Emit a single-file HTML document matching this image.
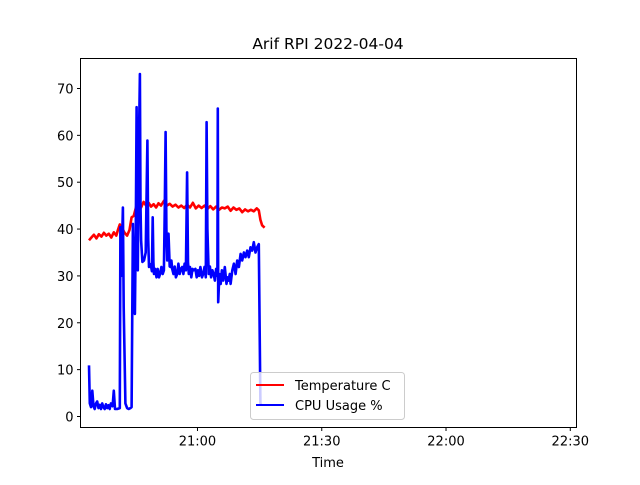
<!DOCTYPE html>
<html><head><meta charset="utf-8"><style>
body{margin:0;background:#fff}
svg text{font-family:"DejaVu Sans","Liberation Sans",sans-serif;fill:#000}
</style></head><body>
<svg id="chart" width="640" height="480" xmlns="http://www.w3.org/2000/svg">
<rect width="640" height="480" fill="#fff"/>
<text x="328" y="49" font-size="15.5" text-anchor="middle">Arif RPI 2022-04-04</text>
<g id="marks"></g>
<rect x="80.5" y="58.5" width="496" height="369" fill="none" stroke="#000" stroke-width="1"/>
<g id="axes"></g>
<text x="328" y="467" font-size="13" text-anchor="middle">Time</text>
<g>
<rect x="250.5" y="372.5" width="154" height="47" rx="3" fill="#fff" fill-opacity="0.8" stroke="#ccc"/>
<line x1="256" y1="385" x2="284" y2="385" stroke="red" stroke-width="2"/>
<text x="295" y="390" font-size="13">Temperature C</text>
<line x1="256" y1="405" x2="284" y2="405" stroke="blue" stroke-width="2"/>
<text x="295" y="410" font-size="13">CPU Usage %</text>
</g>
</svg>
<script>
// times in minutes after 20:00
const cpuTimes=[33.8,34.0,34.3,34.6,34.9,35.2,35.5,35.8,36.1,36.4,36.7,37.0,37.3,37.6,37.9,38.2,38.5,38.8,39.1,39.5,39.8,40.1,40.6,41.25,41.4,41.6,42.0,42.2,42.6,43.0,43.4,43.8,44.1,44.4,44.6,44.9,45.1,45.3,45.45,45.6,45.8,46.1,46.25,46.4,46.7,47.1,47.5,47.9,48.1,48.3,48.7,49.0,49.2,49.35,49.5,49.8,50.1,50.4,50.7,51.0,51.3,51.6,51.9,52.1,52.3,52.5,52.7,53.0,53.3,53.5,53.7,53.9,54.2,54.5,54.8,55.1,55.4,55.7,56.0,56.3,56.6,56.9,57.2,57.5,57.7,57.9,58.2,58.5,58.8,59.1,59.5,59.8,60.1,60.4,60.7,61.1,61.4,61.7,62.0,62.2,62.4,62.7,63.0,63.3,63.6,63.9,64.2,64.5,64.8,64.9,65.0,65.3,65.6,65.9,66.2,66.6,67.0,67.2,67.5,67.8,68.0,68.4,68.8,69.2,69.6,70.0,70.4,70.8,71.2,71.6,72.0,72.4,72.8,73.2,73.6,74.0,74.4,74.8,75.2,75.4,75.5];
const cpuValues=[10.9,2.8,2.0,5.5,2.2,1.6,2.8,3.2,1.8,2.5,1.6,2.8,2.0,1.6,2.6,1.8,2.4,1.6,2.8,2.2,5.5,1.6,1.6,1.8,40.4,30,44.6,23.3,2.8,1.8,1.6,1.8,2.0,41.1,30,21.9,40,66,50,31.2,55,73.1,45,37.6,33,33.3,35,58.9,38,31.9,32.5,31,42.5,33,30.4,31.5,29.7,31.5,29.7,30.5,31.9,30.4,31.2,45,60.7,40,33.3,39,32,31.9,33.3,31.5,30.4,32,29.7,30.4,32.6,30.4,31.5,31.9,30.4,32.6,31.2,52.1,33,30.4,31.9,29.7,31.5,31.2,31.5,29.7,31.2,30,31.9,29.7,30.5,31.9,29.7,62.8,40,30.4,32,29.7,31.2,30.4,29.0,31.5,30.0,65.7,24.4,30.4,28.3,31.2,29.0,31.9,28.3,29.7,29.0,30.4,28.3,31.2,32.6,30.4,33.3,31.9,34.7,33.3,35.0,34.0,35.4,34.0,36.1,35.4,37.2,35.0,36.1,36.8,2.8,2.5];
const tempTimes=[33.8,34.4,35.0,35.6,36.2,36.8,37.4,38.0,38.6,39.2,39.8,40.4,40.8,41.25,41.8,42.4,43.0,43.6,44.1,44.6,45.2,45.8,46.4,47.0,47.6,48.2,48.8,49.4,50.0,50.6,51.2,51.9,52.6,53.3,54.0,54.7,55.4,56.1,56.8,57.5,58.2,58.9,59.6,60.3,61.0,61.7,62.4,63.1,63.8,64.5,65.2,65.9,66.6,67.3,68.0,68.7,69.4,70.1,70.8,71.5,72.2,72.9,73.6,74.3,74.8,75.2,75.6,76.2];
const tempValues=[37.6,38.2,38.8,38.0,38.9,38.4,39.2,38.6,39.0,38.2,39.3,38.6,39.8,41.0,40.2,39.2,38.6,39.8,42.5,42.8,44.8,45.3,44.6,45.8,45.0,45.6,44.8,45.3,44.6,45.5,45.0,46.0,45.0,45.4,44.8,45.2,44.6,45.0,44.5,45.2,44.6,45.6,44.4,45.0,44.5,45.0,44.3,44.9,44.2,44.8,44.1,44.6,44.4,44.8,43.9,44.6,44.1,44.4,43.6,44.2,43.8,44.1,43.8,44.4,44.0,42.0,40.8,40.3];
const xTickVals=[60,90,120,150];
const xTickLabels=["21:00","21:30","22:00","22:30"];
const yTickVals=[0,10,20,30,40,50,60,70];

const L=80.5,R=576.5,T=58.5,B=427.5;
const xMin=31.76,xMax=151.5,yMin=-2.35,yMax=76.4;
const xs=t=>L+(t-xMin)/(xMax-xMin)*(R-L);
const ys=v=>B-(v-yMin)/(yMax-yMin)*(B-T);
const NS="http://www.w3.org/2000/svg";
const marks=document.getElementById('marks'),axes=document.getElementById('axes');
function line(ts,vs,color,name){
  const p=document.createElementNS(NS,'polyline');
  p.setAttribute('points',ts.map((t,i)=>xs(t).toFixed(1)+','+ys(vs[i]).toFixed(1)).join(' '));
  p.setAttribute('fill','none');p.setAttribute('stroke',color);p.setAttribute('stroke-width','2.6');p.setAttribute('stroke-linejoin','round');
  
  
  marks.appendChild(p);
}
line(tempTimes,tempValues,'red','temperature-line');
line(cpuTimes,cpuValues,'blue','cpu-usage-line');
xTickVals.forEach((v,i)=>{
  const x=xs(v);
  const tk=document.createElementNS(NS,'line');
  tk.setAttribute('x1',x);tk.setAttribute('x2',x);tk.setAttribute('y1',B);tk.setAttribute('y2',B+3.5);tk.setAttribute('stroke','#000');
  
  
  axes.appendChild(tk);
  const tx=document.createElementNS(NS,'text');
  tx.setAttribute('x',x);tx.setAttribute('y',B+18);tx.setAttribute('font-size','13');tx.setAttribute('text-anchor','middle');
  tx.textContent=xTickLabels[i];
  
  
  axes.appendChild(tx);
});
yTickVals.forEach(v=>{
  const y=ys(v);
  const tk=document.createElementNS(NS,'line');
  tk.setAttribute('x1',L-3.5);tk.setAttribute('x2',L);tk.setAttribute('y1',y);tk.setAttribute('y2',y);tk.setAttribute('stroke','#000');
  
  
  axes.appendChild(tk);
  const tx=document.createElementNS(NS,'text');
  tx.setAttribute('x',L-7);tx.setAttribute('y',y+5);tx.setAttribute('font-size','13');tx.setAttribute('text-anchor','end');
  tx.textContent=v;
  
  
  axes.appendChild(tx);
});
</script>
</body></html>
